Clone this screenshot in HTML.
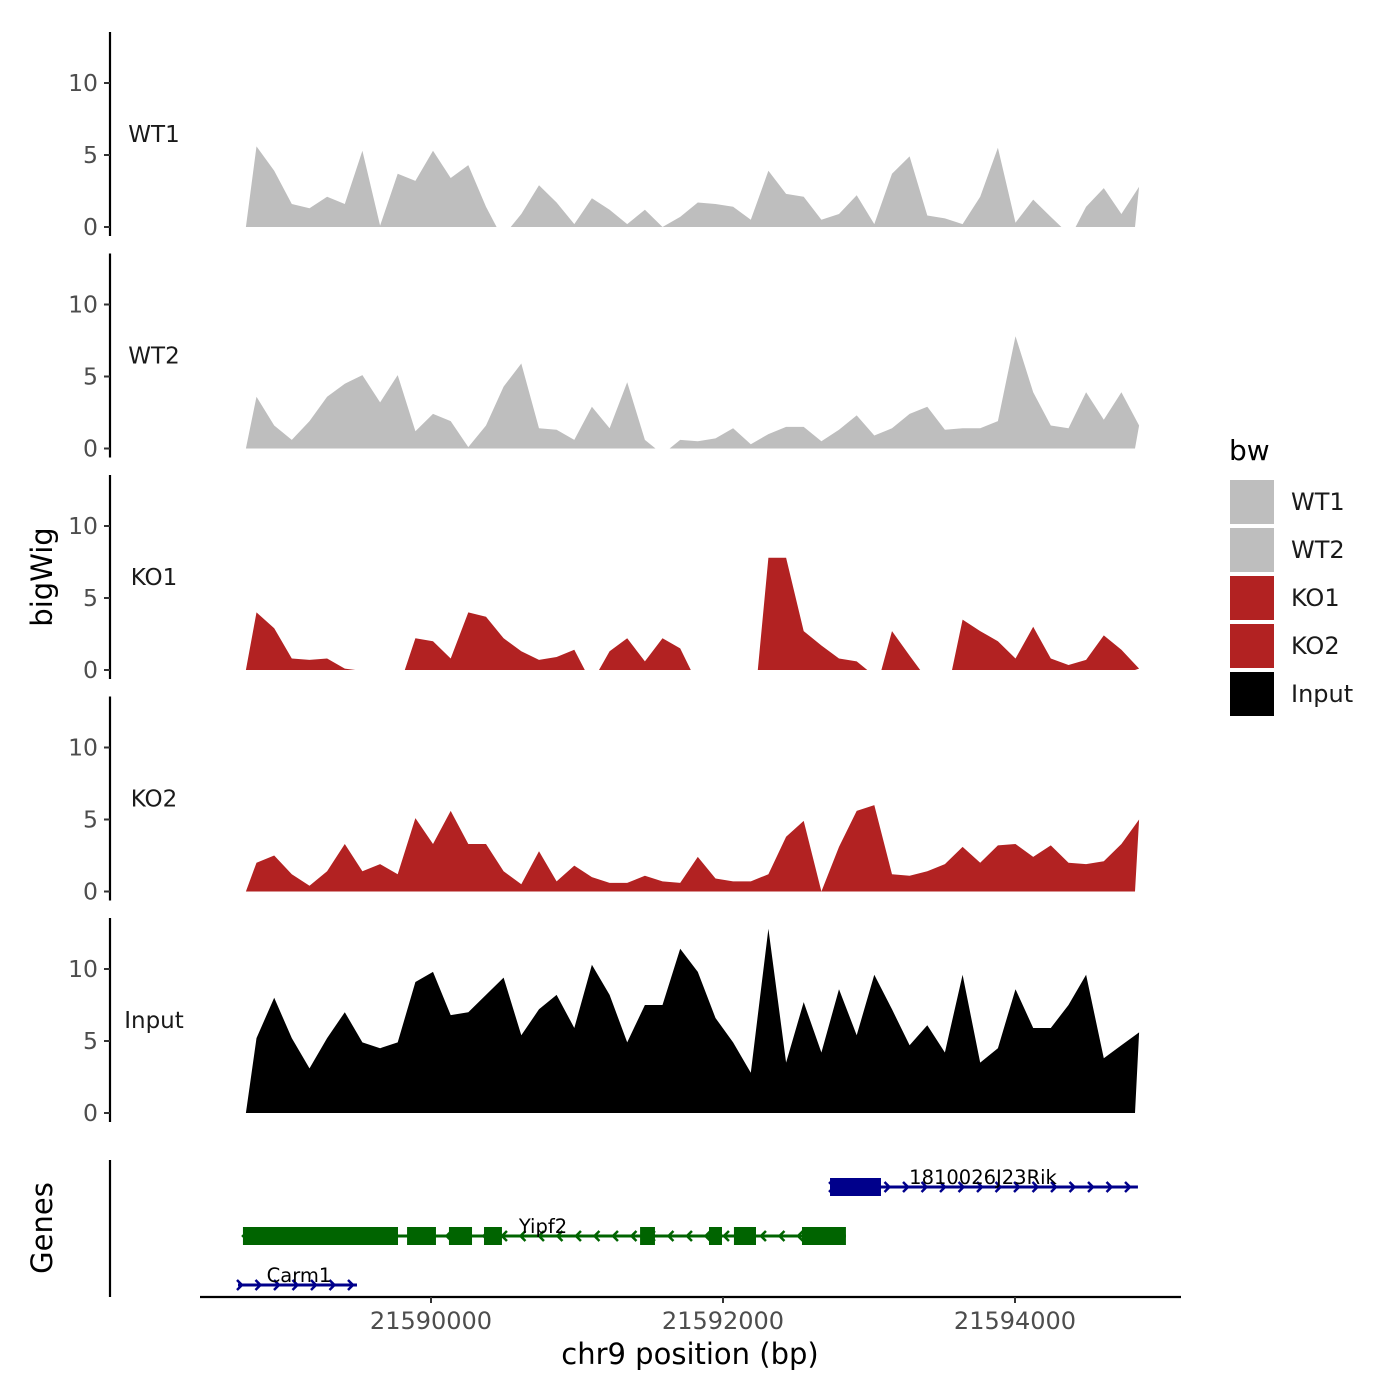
<!DOCTYPE html>
<html><head><meta charset="utf-8"><style>
html,body{margin:0;padding:0;background:#fff}
svg{display:block;font-family:"DejaVu Sans","Liberation Sans",sans-serif}
</style></head><body>
<svg id="chart" width="1400" height="1400" viewBox="0 0 1400 1400">
<g id="tracks"></g>
<g id="genes"></g>
<g id="xaxis"></g>
<text x="690" y="1364" font-size="29" text-anchor="middle" fill="#000">chr9 position (bp)</text>
<text transform="translate(52,577) rotate(-90)" font-size="29" text-anchor="middle" fill="#000">bigWig</text>
<text transform="translate(52,1228) rotate(-90)" font-size="29" text-anchor="middle" fill="#000">Genes</text>
<g id="legend">
<text x="1229" y="460" font-size="28" fill="#000">bw</text>
</g>
</svg>
<script>
const NS='http://www.w3.org/2000/svg';
const bpStart=21588805, bpStep=120.9;
const trackNames=['WT1','WT2','KO1','KO2','Input'];
const trackColors=['#bebebe','#bebebe','#b22222','#b22222','#000000'];
const yTicks=[0,5,10];
const xTicks=[21590000,21592000,21594000];
const wt1=[5.6,3.9,1.6,1.3,2.1,1.6,5.3,0.1,3.7,3.2,5.3,3.4,4.3,1.4,null,0.9,2.9,1.7,0.2,2.0,1.2,0.2,1.2,0,0.7,1.7,1.6,1.4,0.5,3.9,2.3,2.1,0.5,0.9,2.2,0.2,3.7,4.9,0.8,0.6,0.2,2.1,5.5,0.3,1.9,0.7,null,1.4,2.7,0.9,2.8];
const wt2=[3.6,1.6,0.6,1.9,3.6,4.5,5.1,3.2,5.1,1.2,2.4,1.9,0.1,1.6,4.3,5.9,1.4,1.3,0.6,2.9,1.4,4.6,0.6,null,0.6,0.5,0.7,1.4,0.3,1.0,1.5,1.5,0.5,1.3,2.3,0.9,1.4,2.4,2.9,1.3,1.4,1.4,1.9,7.8,3.9,1.6,1.4,3.9,2.0,3.9,1.6];
const ko1=[4.0,2.9,0.8,0.7,0.8,0.1,null,null,null,2.2,2.0,0.8,4.0,3.7,2.2,1.3,0.7,0.9,1.4,null,1.3,2.2,0.6,2.2,1.5,null,null,null,null,7.8,7.8,2.7,1.7,0.8,0.6,null,2.7,1.0,null,null,3.5,2.7,2.0,0.8,3.0,0.8,0.35,0.7,2.4,1.4,0.1];
const ko2=[2.0,2.5,1.2,0.4,1.4,3.3,1.4,1.9,1.2,5.1,3.3,5.6,3.3,3.3,1.4,0.5,2.8,0.7,1.8,1.0,0.6,0.6,1.1,0.7,0.6,2.4,0.9,0.7,0.7,1.2,3.8,4.9,0,3.1,5.6,6.0,1.2,1.1,1.4,1.9,3.1,2.0,3.2,3.3,2.4,3.2,2.0,1.9,2.1,3.3,5.0];
const input=[5.2,8.0,5.2,3.1,5.2,7.0,4.9,4.5,4.9,9.1,9.8,6.8,7.0,8.2,9.4,5.4,7.2,8.2,5.9,10.3,8.2,4.9,7.5,7.5,11.4,9.8,6.6,4.9,2.8,12.8,3.5,7.7,4.2,8.6,5.4,9.6,7.2,4.7,6.1,4.2,9.6,3.5,4.5,8.6,5.9,5.9,7.5,9.6,3.8,4.7,5.6];
const series=[wt1,wt2,ko1,ko2,input];
const geneNames=['1810026J23Rik','Yipf2','Carm1'];
const geneStarts=[21592733,21588712,21588678];
const geneEnds=[21594842,21592842,21589493];
const geneStrands=['+','-','+'];
const rikExons=[[21592733,21593082]];
const yipfExons=[[21588712,21589774],[21589836,21590034],[21590123,21590281],[21590363,21590486],[21591432,21591534],[21591904,21591993],[21592075,21592226],[21592541,21592842]];
const carmExons=[];
const geneExons=[rikExons,yipfExons,carmExons];
const geneColors=['#00008b','#006400','#00008b'];

function xs(bp){return 431+(bp-21590000)*0.146;}
function el(tag,attrs,parent){const e=document.createElementNS(NS,tag);for(const k in attrs)e.setAttribute(k,attrs[k]);parent.appendChild(e);return e;}
const tracks=document.getElementById('tracks');
const panelStep=221.5, zero0=227, ppu=14.4;
const halfPx=bpStep*0.146*0.6;
trackNames.forEach((name,t)=>{
  const zero=zero0+t*panelStep;
  const ys=v=>zero-v*ppu;
  const g=el('g',{},tracks);
  
  
  const spine=el('line',{x1:110,x2:110,y1:zero-195,y2:zero+9,stroke:'#000','stroke-width':2.2},g);
  
  
  yTicks.forEach(v=>{
    const tk=el('line',{x1:104,x2:110,y1:ys(v),y2:ys(v),stroke:'#333','stroke-width':2},g);
    
    
    const tl=el('text',{x:98,y:ys(v)+8,'font-size':23.5,'text-anchor':'end',fill:'#4d4d4d'},g);
    tl.textContent=v;
    
    
  });
  const lab=el('text',{x:154,y:zero-85,'font-size':23,'text-anchor':'middle',fill:'#1a1a1a'},g);
  lab.textContent=name;
  
  
  const data=series[t];
  let d='',seg=[];
  const flush=()=>{if(seg.length){let x0=seg[0][0]-halfPx,x1=seg[seg.length-1][0];
    if(x0<245)x0=245; if(seg[seg.length-1][2]<data.length-1)x1+=halfPx; else x1=1135;
    const startY=(x0===245&&t===4)?seg[0][1]:zero;
    d+='M'+x0.toFixed(1)+','+zero+' L'+x0.toFixed(1)+','+startY.toFixed(1)+' '+seg.map(p=>'L'+p[0].toFixed(1)+','+p[1].toFixed(1)).join(' ')+' L'+x1.toFixed(1)+','+zero+' Z ';}seg=[];};
  data.forEach((v,i)=>{if(v===null){flush();return;}seg.push([xs(bpStart+i*bpStep),ys(v),i]);});
  flush();
  const area=el('path',{d:d,fill:trackColors[t]},g);
  
  
});
// genes
const gg=document.getElementById('genes');
const gs=el('line',{x1:110,x2:110,y1:1160,y2:1297,stroke:'#000','stroke-width':2.2},gg);


const rowY=[1187,1236,1285];
geneNames.forEach((name,k)=>{
  const y=rowY[k],c=geneColors[k];
  const g=el('g',{},gg);
  
  
  const x0=xs(geneStarts[k]),x1=xs(geneEnds[k]);
  el('line',{x1:x0,x2:x1,y1:y,y2:y,stroke:c,'stroke-width':3},g);
  for(let x=x0+2;x<=x1;x+=18.5){
    const p=geneStrands[k]==='+'?`M${x-3},${y-5} L${x+2},${y} L${x-3},${y+5}`:`M${x+3},${y-5} L${x-2},${y} L${x+3},${y+5}`;
    el('path',{d:p,stroke:c,'stroke-width':2.5,fill:'none'},g);
  }
  geneExons[k].forEach(e=>{
    const r=el('rect',{x:xs(e[0]),y:y-9,width:xs(e[1])-xs(e[0]),height:18,fill:c},g);
    
    
  });
  const t=el('text',{x:(k===0?983:k===1?543:299),y:y-3,'font-size':19.5,'text-anchor':'middle',fill:'#000'},g);
  t.textContent=name;
  
  
});
// x axis
const xa=document.getElementById('xaxis');
el('line',{x1:200,x2:1181,y1:1297,y2:1297,stroke:'#000','stroke-width':2.2},xa);
xTicks.forEach(v=>{
  const tk=el('line',{x1:xs(v),x2:xs(v),y1:1297,y2:1303,stroke:'#333','stroke-width':2},xa);
  
  
  const tl=el('text',{x:xs(v),y:1329,'font-size':24,'text-anchor':'middle',fill:'#4d4d4d'},xa);
  tl.textContent=v;
  
  
});
// legend
const lg=document.getElementById('legend');
const legendColors=['#bebebe','#bebebe','#b22222','#b22222','#000000'];
trackNames.forEach((n,i)=>{
  const y=480+i*48;
  const r=el('rect',{x:1230,y:y,width:44,height:44,fill:legendColors[i]},lg);
  
  
  const t=el('text',{x:1291,y:y+30,'font-size':24,fill:'#1a1a1a'},lg);
  t.textContent=n;
  
  
});
</script>
</body></html>
